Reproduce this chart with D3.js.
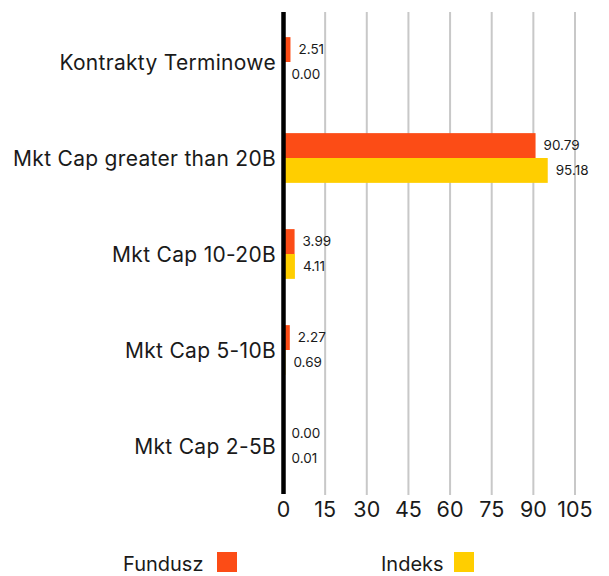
<!DOCTYPE html>
<html>
<head>
<meta charset="utf-8">
<script src="https://cdn.jsdelivr.net/npm/d3@7"></script>
<style>
  body { margin: 0; background: #fff; }
  text { font-family: Inter, "Open Sans", sans-serif; fill: #1a1a1a; }
</style>
</head>
<body>
<div id="chart"></div>
<script>
var categories = ["Kontrakty Terminowe", "Mkt Cap greater than 20B", "Mkt Cap 10-20B", "Mkt Cap 5-10B", "Mkt Cap 2-5B"];
var fundusz = [2.51, 90.79, 3.99, 2.27, 0.00];
var indeks = [0.00, 95.18, 4.11, 0.69, 0.01];
var seriesNames = ["Fundusz", "Indeks"];
var colors = ["#fc4c16", "#ffce00"];
var ticks = [0, 15, 30, 45, 60, 75, 90, 105];

var width = 609, height = 576;
var margin = {top: 14, right: 34, bottom: 82, left: 283.5};

var svg = d3.select("#chart")
  .append("svg")
  .attr("width", width)
  .attr("height", height);

var x = d3.scaleLinear()
  .domain([0, 105])
  .range([margin.left, width - margin.right]);

var y = d3.scaleBand()
  .domain(categories)
  .range([margin.top, height - margin.bottom]);

var inner = d3.scaleBand()
  .domain(seriesNames)
  .range([0, y.bandwidth()])
  .paddingInner(0)
  .paddingOuter(0.93);

// grid lines
svg.append("g")
  .selectAll("line")
  .data(ticks.slice(1))
  .enter()
  .append("line")
    .attr("x1", function(d) { return x(d); })
    .attr("x2", function(d) { return x(d); })
    .attr("y1", 12)
    .attr("y2", height - margin.bottom + 1)
    .attr("stroke", "#c8c8c8")
    .attr("stroke-width", 2);

// tick labels
svg.append("g")
  .selectAll("text")
  .data(ticks)
  .enter()
  .append("text")
    .attr("x", function(d) { return x(d); })
    .attr("y", 516.5)
    .attr("text-anchor", "middle")
    .style("font-size", "21.5px")
    .text(function(d) { return d; });

var rows = categories.map(function(c, i) {
  return [{cat: c, s: "Fundusz", v: fundusz[i], color: colors[0]},
          {cat: c, s: "Indeks", v: indeks[i], color: colors[1]}];
});
var flat = [].concat.apply([], rows);

// bars
svg.append("g")
  .selectAll("rect")
  .data(flat)
  .enter()
  .append("rect")
    .attr("x", x(0))
    .attr("y", function(d) { return y(d.cat) + inner(d.s); })
    .attr("width", function(d) { return x(d.v) - x(0); })
    .attr("height", inner.bandwidth())
    .attr("fill", function(d) { return d.color; });

// value labels
svg.append("g")
  .selectAll("text")
  .data(flat)
  .enter()
  .append("text")
    .attr("x", function(d) { return x(d.v) + 8; })
    .attr("y", function(d) { return y(d.cat) + inner(d.s) + inner.bandwidth() / 2; })
    .attr("dy", "0.36em")
    .style("font-size", "13.5px")
    .text(function(d) { return d.v.toFixed(2); });

// category labels
svg.append("g")
  .selectAll("text")
  .data(categories)
  .enter()
  .append("text")
    .attr("x", margin.left - 7.5)
    .attr("y", function(d) { return y(d) + y.bandwidth() / 2; })
    .attr("dy", "0.36em")
    .attr("text-anchor", "end")
    .style("font-size", "21px")
    .style("letter-spacing", "0.3px")
    .text(function(d) { return d; });

// zero axis line
svg.append("line")
  .attr("x1", x(0))
  .attr("x2", x(0))
  .attr("y1", 12)
  .attr("y2", height - margin.bottom)
  .attr("stroke", "#000")
  .attr("stroke-width", 4.5);

// legend
var legendX = [123, 381];
var legendBox = [217, 454];
var legend = svg.append("g").selectAll("g")
  .data(seriesNames)
  .enter()
  .append("g");

legend.append("text")
  .attr("x", function(d, i) { return legendX[i]; })
  .attr("y", 571)
  .style("font-size", "20px")
  .text(function(d) { return d; });

legend.append("rect")
  .attr("x", function(d, i) { return legendBox[i]; })
  .attr("y", 552)
  .attr("width", 20)
  .attr("height", 20)
  .attr("fill", function(d, i) { return colors[i]; });
</script>
</body>
</html>
